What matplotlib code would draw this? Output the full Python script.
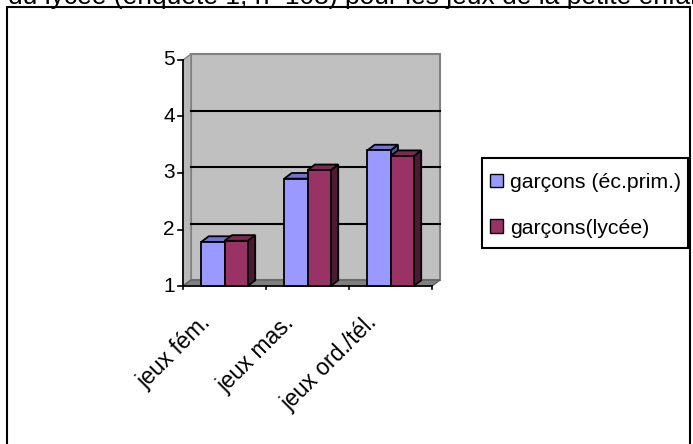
import matplotlib
matplotlib.use("Agg")
import matplotlib.pyplot as plt
from matplotlib.patches import Polygon, Rectangle

categories = ["jeux fém.", "jeux mas.", "jeux ord./tél."]
series_names = ["garçons (éc.prim.)", "garçons(lycée)"]
prim_values = [1.78, 2.9, 3.4]
lycee_values = [1.8, 3.05, 3.3]
yticks = [1, 2, 3, 4, 5]
title_text = "du lycée (enquête 1, n=108) pour les jeux de la petite enfance"

plt.rcParams["font.family"] = ["Liberation Sans", "DejaVu Sans"]

# face colours: front, top, side
colors = [("#9999FF", "#7373D2", "#5555A0"),
          ("#993366", "#7A2952", "#4D1A33")]

W, H = 693, 444
fig = plt.figure(figsize=(W / 100, H / 100), dpi=100)
# outer chart frame
fig.patches.append(Rectangle((7 / W, -0.05), 683 / W, 1 - 7 / H + 0.05,
                             transform=fig.transFigure, fill=False,
                             edgecolor="black", linewidth=1.5))
# half-visible text of the page above the chart
fig.text(8 / W, 1.0 - 4 / H, title_text, fontsize=19, va="baseline", ha="left")

ax = fig.add_axes([183 / W, 1 - 286 / H, 249 / W, 226 / H])
ymin, ymax = yticks[0], yticks[-1]
n = len(categories)
ax.set_xlim(0, n)
ax.set_ylim(ymin, ymax)
ax.axis("off")

# depth offset in data units
dx, dy = 0.096, 0.106
bdx, bdy = 0.09, 0.1

def poly(pts, fc, ec="black", lw=1.0, z=1):
    ax.add_patch(Polygon(pts, closed=True, facecolor=fc, edgecolor=ec,
                         linewidth=lw, clip_on=False, zorder=z))

# back wall, side wall, floor
poly([(dx, ymin + dy), (n + dx, ymin + dy), (n + dx, ymax + dy), (dx, ymax + dy)],
     "#C0C0C0", ec="#808080", lw=1.5)
poly([(0, ymin), (dx, ymin + dy), (dx, ymax + dy), (0, ymax)], "#B8B8B8", ec="#808080", lw=1.0)
poly([(0, ymin), (n, ymin), (n + dx, ymin + dy), (dx, ymin + dy)], "#808080", ec="#606060", lw=1.0)

for v in yticks[1:-1]:
    ax.plot([dx, n + dx], [v + dy, v + dy], color="black", lw=1.5, clip_on=False, zorder=2)

# axes lines and ticks
ax.plot([0, 0], [ymin, ymax], color="black", lw=1.2, clip_on=False, zorder=5)
ax.plot([0, n], [ymin, ymin], color="black", lw=1.2, clip_on=False, zorder=5)
for v in yticks:
    ax.plot([-0.06, 0], [v, v], color="black", lw=1.2, clip_on=False, zorder=5)
    ax.text(-0.1, v, str(v), ha="right", va="center", fontsize=15)
for i in range(n + 1):
    ax.plot([i, i], [ymin, ymin - 0.06], color="black", lw=1.2, clip_on=False, zorder=5)
for i, lab in enumerate(categories):
    ax.text(i + 0.2, ymin - 0.44, lab, rotation=45, rotation_mode="anchor",
            ha="right", va="top", fontsize=16.5)

# 3D-looking bars
w = 0.28
for i in range(n):
    c = i + 0.5
    for j, vals in enumerate([prim_values, lycee_values]):
        x0 = c - w + j * w
        x1 = x0 + w
        v = vals[i]
        front, top, side = colors[j]
        z = 10 + i * 2 + j
        poly([(x1, ymin), (x1 + bdx, ymin + bdy), (x1 + bdx, v + bdy), (x1, v)], side, lw=1.3, z=z)
        poly([(x0, v), (x1, v), (x1 + bdx, v + bdy), (x0 + bdx, v + bdy)], top, lw=1.3, z=z)
        poly([(x0, ymin), (x1, ymin), (x1, v), (x0, v)], front, lw=1.3, z=z)

# legend: entries without frame, box drawn separately
fig.patches.append(Rectangle((482 / W, 1 - 248 / H), 206 / W, 90 / H,
                             transform=fig.transFigure, facecolor="white",
                             edgecolor="black", linewidth=1.5, zorder=3))
handles = [Rectangle((0, 0), 1, 1, facecolor=colors[k][0], edgecolor="black") for k in range(2)]
leg = fig.legend(handles, series_names, loc="upper left",
                 bbox_to_anchor=(490 / W, 1 - 173 / H), fontsize=15.3,
                 frameon=False, handlelength=0.6, handleheight=0.6,
                 handletextpad=0.35, labelspacing=1.25, borderpad=0,
                 borderaxespad=0)
leg.set_zorder(4)

fig.savefig("out.png", dpi=100)
